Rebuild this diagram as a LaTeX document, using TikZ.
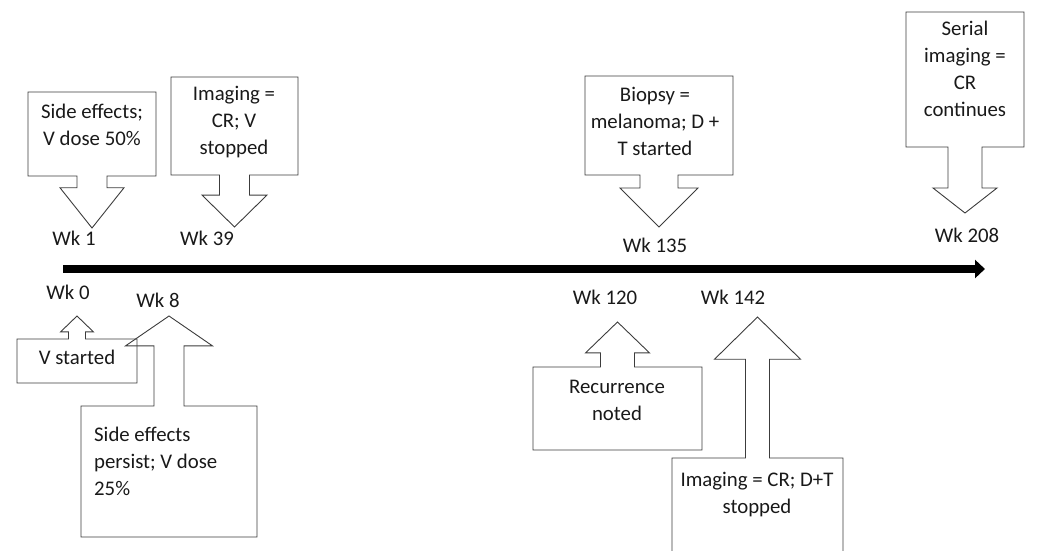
\documentclass[tikz,border=0pt]{standalone}
\usepackage{fontspec}
\setmainfont{Carlito}
\usepackage{tikz}
\usetikzlibrary{arrows.meta, positioning, shapes.arrows}
\usepackage{xcolor}
\definecolor{InkGrey}{RGB}{60,60,60}
\definecolor{TextBlack}{RGB}{25,25,25}
\tikzset{%
  callout/.style={%
    arrow box,%
    draw=InkGrey,%
    line width=0.9pt,%
    inner sep=0pt,%
    outer sep=0pt,%
  },
  callout_text/.style={%
    text=TextBlack,%
    font={\fontsize{20.8}{27}\selectfont},%
    align=center,%
    inner sep=0pt,%
  },
  week/.style={%
    text=TextBlack,%
    font={\fontsize{20.8}{27}\selectfont},%
    inner sep=0pt,%
  },
  timeline/.style={%
    draw=black,%
    line width=8pt,%
    -{Triangle[length=10pt, width=18pt]},%
  },
}

\begin{document}
\begin{tikzpicture}[x=1pt, y=-1pt]

    \useasboundingbox (0,0) rectangle (1039,551);

    % time axis
    \coordinate (t_start) at (63,269);
    \coordinate (t_end) at (985,269);
    \draw [timeline] (t_start) -- (t_end);

    % callouts above the axis
    \node [callout, minimum width=128pt, minimum height=84pt,
      arrow box arrows={south:52pt from border},
      arrow box shaft width=30pt, arrow box head extend=17pt,
      arrow box tip angle=77] (Wk1_box) at (92,134) {};
    \node [callout_text] (Wk1_text) at (92,125) {Side effects;\\V dose 50\%};

    \node [callout, minimum width=127pt, minimum height=98pt,
      arrow box arrows={south:52pt from border},
      arrow box shaft width=30pt, arrow box head extend=17.5pt,
      arrow box tip angle=91] (Wk39_box) at (234.5,126) {};
    \node [callout_text] (Wk39_text) at (234,122.5) {Imaging =\\CR; V\\stopped};

    \node [callout, minimum width=148pt, minimum height=99pt,
      arrow box arrows={south:52pt from border},
      arrow box shaft width=38pt, arrow box head extend=20pt,
      arrow box tip angle=90] (Wk135_box) at (659,125.5) {};
    \node [callout_text] (Wk135_text) at (655,121) {Biopsy =\\melanoma; D +\\T started};

    \node [callout, minimum width=118pt, minimum height=135pt,
      arrow box arrows={south:66pt from border},
      arrow box shaft width=34pt, arrow box head extend=15pt,
      arrow box tip angle=104] (Wk208_box) at (965,79.5) {};
    \node [callout_text] (Wk208_text) at (965,68.5) {Serial\\imaging =\\CR\\continues};

    % callouts below the axis
    \node [callout, minimum width=176pt, minimum height=131pt,
      arrow box arrows={north:90pt from border},
      arrow box shaft width=30pt, arrow box head extend=28.5pt,
      arrow box tip angle=111] (Wk8_box) at (169,471.5) {};
    \node [callout_text, align=left, anchor=west] (Wk8_text) at (94,461)
      {Side effects\\persist; V dose\\25\%};

    \node [callout, minimum width=120pt, minimum height=44pt,
      arrow box arrows={north:23pt from border},
      arrow box shaft width=17pt, arrow box head extend=8pt,
      arrow box tip angle=92] (Wk0_box) at (77,361) {};
    \node [callout_text] (Wk0_text) at (77,357) {V started};

    \node [callout, minimum width=169pt, minimum height=83pt,
      arrow box arrows={north:45pt from border},
      arrow box shaft width=34pt, arrow box head extend=15pt,
      arrow box tip angle=92] (Wk120_box) at (617.5,408.5) {};
    \node [callout_text] (Wk120_text) at (617,400) {Recurrence\\noted};

    \node [callout, minimum width=171pt, minimum height=150pt,
      arrow box arrows={north:141pt from border},
      arrow box shaft width=24pt, arrow box head extend=31pt,
      arrow box tip angle=91] (Wk142_box) at (757.5,533) {};
    \node [callout_text] (Wk142_text) at (757,494.5) {Imaging = CR; D+T\\stopped};

    % week labels
    \node [week] (Wk1) at (74,238) {Wk 1};
    \node [week] (Wk39) at (207,238) {Wk 39};
    \node [week] (Wk135) at (655,245) {Wk 135};
    \node [week] (Wk208) at (967,235) {Wk 208};
    \node [week] (Wk0) at (68,292) {Wk 0};
    \node [week] (Wk8) at (158,300) {Wk 8};
    \node [week] (Wk120) at (605,297) {Wk 120};
    \node [week] (Wk142) at (733,297) {Wk 142};

\end{tikzpicture}
\end{document}
